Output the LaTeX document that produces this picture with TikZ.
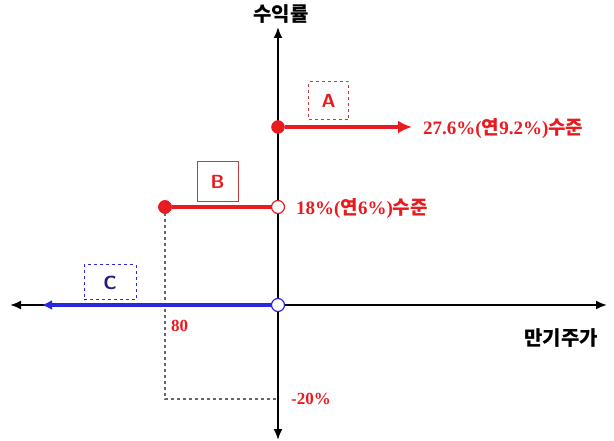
\documentclass[tikz,border=0pt]{standalone}
\usepackage{fontspec}
\setmainfont{Liberation Serif}
\newfontfamily\krfont{Noto Sans CJK KR}
\usetikzlibrary{arrows.meta}
\definecolor{myred}{RGB}{232,28,32}
\definecolor{myblue}{RGB}{40,40,225}
\definecolor{navy}{RGB}{30,30,130}
\newcommand{\kk}[1]{{\krfont\bfseries #1}}
\tikzset{
  axis/.style={line width=1.9pt,black,{Latex[length=11pt,width=9pt]}-{Latex[length=11pt,width=9pt]}},
  redline/.style={line width=4pt,myred},
  blueline/.style={line width=4pt,myblue},
  fillpt/.style={circle,fill=myred,draw=myred,inner sep=0pt,minimum size=13pt},
  openred/.style={circle,fill=white,draw=myred,line width=1.2pt,inner sep=0pt,minimum size=13pt},
  openblue/.style={circle,fill=white,draw=myblue,line width=1.2pt,inner sep=0pt,minimum size=13pt},
  lbox/.style={draw,line width=1pt,inner sep=0pt,font=\sffamily\bfseries\fontsize{19}{19}\selectfont},
  redtxt/.style={text=myred,font=\bfseries\fontsize{19}{19}\selectfont,inner sep=0pt},
  guide/.style={gray!80!black,dashed,line width=1.1pt},
  axlabel/.style={font=\krfont\bfseries\fontsize{20}{20}\selectfont,inner sep=0pt}
}
\begin{document}
\begin{tikzpicture}[x=1pt,y=-1pt]
\useasboundingbox (0,0) rectangle (614,441);
% axes
\coordinate (xl) at (10,305);
\coordinate (xr) at (607,305);
\coordinate (yt) at (278,27);
\coordinate (yb) at (278,440);
\draw[axis] (xl) -- (xr);
\draw[axis] (yb) -- (yt);
\node[axlabel,anchor=center] (ylab) at (281,14) {수익률};
\node[axlabel,anchor=center] (xlab) at (561,338) {만기주가};
% guides
\coordinate (g1) at (165,399);
\coordinate (g2) at (278,399);
\node[fillpt] (pB) at (165,207) {};
\draw[guide] (pB.center) -- (g1) -- (g2);
% C
\coordinate (cEnd) at (42,305);
\node[openblue] (oC) at (278,305) {};
\draw[blueline,-{Latex[length=10pt,width=10pt]}] (oC.west) -- (cEnd);
\node[lbox,draw=myblue,dashed,text=navy,minimum width=52pt,minimum height=35pt] (boxC) at (110,282.5) {C};
% B
\node[openred] (oB) at (278,207) {};
\draw[redline] (pB) -- (oB);
\node[fillpt] at (pB) {};
\node[lbox,draw=myred!70!gray,text=myred,minimum width=41pt,minimum height=40pt] (boxB) at (217.5,182) {B};
\node[redtxt,anchor=west] (labB) at (296,209) {18\%(\kk{연}6\%)\kk{수준}};
% A
\node[fillpt] (pA) at (278,127) {};
\coordinate (aEnd) at (412,127);
\draw[redline,-{Latex[length=14pt,width=13pt]}] (pA) -- (aEnd);
\node[lbox,draw=myred!70!gray,dashed,text=myred,minimum width=40pt,minimum height=38pt] (boxA) at (328.5,101) {A};
\node[redtxt,anchor=west] (labA) at (423,129) {27.6\%(\kk{연}9.2\%)\kk{수준}};
% small labels
\node[redtxt,anchor=west,font=\bfseries\fontsize{17}{17}\selectfont] (l80) at (171,326) {80};
\node[redtxt,anchor=west,font=\bfseries\fontsize{17}{17}\selectfont] (l20) at (291,399) {-20\%};
\end{tikzpicture}
\end{document}
